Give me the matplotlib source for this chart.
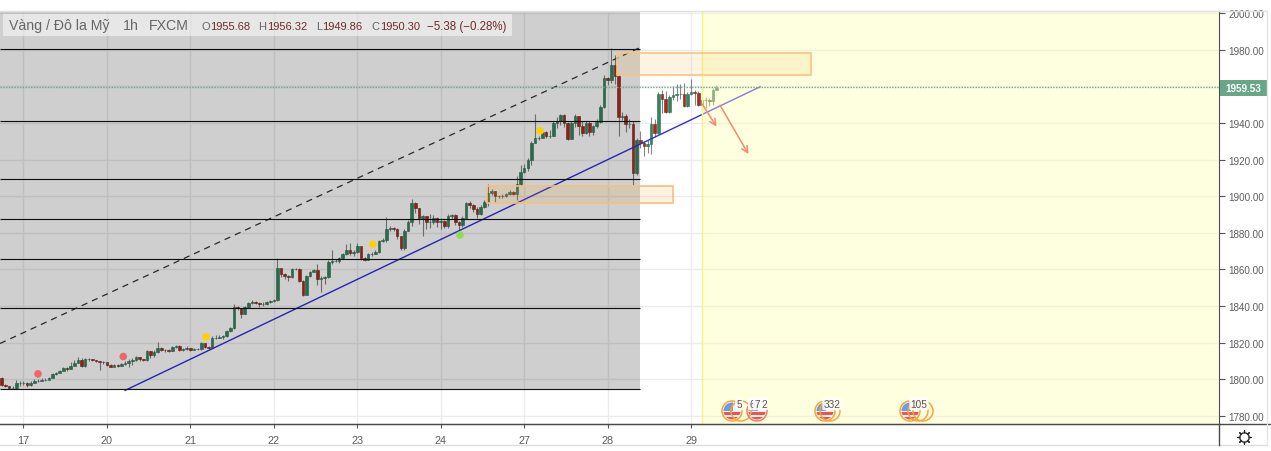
import numpy as np
import matplotlib
matplotlib.use('Agg')
import matplotlib.pyplot as plt
from matplotlib.patches import Rectangle, Circle

plt.rcParams['font.family'] = ['Liberation Sans', 'DejaVu Sans']

opens = [1801.0,1797.0,1796.2,1795.1,1795.3,1798.0,1798.0,1798.2,1797.0,1798.0,
 1799.0,1799.0,1799.7,1799.7,1800.9,1802.8,1803.5,1804.6,1806.2,1805.7,
 1807.5,1809.0,1810.6,1807.5,1811.0,1811.0,1810.6,1810.0,1809.5,1809.3,
 1808.0,1807.0,1807.9,1807.5,1808.4,1809.0,1810.2,1810.4,1812.0,1811.0,
 1810.6,1815.3,1813.3,1814.8,1817.3,1816.2,1815.9,1815.7,1817.9,1818.4,
 1816.2,1816.4,1817.3,1816.2,1816.6,1816.6,1819.7,1817.5,1817.2,1822.6,
 1822.8,1823.3,1823.5,1826.2,1827.9,1839.4,1838.8,1835.7,1839.4,1841.7,
 1842.4,1841.9,1841.0,1841.2,1842.1,1842.6,1843.2,1860.6,1857.5,1856.6,
 1855.9,1860.3,1860.3,1853.9,1846.0,1856.3,1858.4,1859.5,1854.8,1855.3,
 1855.7,1864.3,1864.8,1864.8,1866.4,1868.4,1870.6,1868.8,1869.7,1872.6,
 1866.0,1865.4,1868.4,1868.4,1869.7,1875.5,1875.9,1882.0,1882.7,1882.1,
 1878.1,1871.6,1881.2,1886.1,1896.3,1893.4,1888.1,1889.0,1886.1,1886.1,
 1887.9,1885.8,1886.5,1883.9,1889.4,1889.8,1886.1,1884.3,1888.3,1896.3,
 1895.2,1893.0,1890.3,1894.0,1897.0,1901.8,1902.7,1900.0,1900.3,1900.0,
 1901.0,1902.3,1901.2,1906.7,1913.4,1915.2,1919.6,1929.0,1931.6,1931.9,
 1934.8,1932.7,1933.0,1940.0,1941.2,1944.3,1940.0,1931.2,1939.8,1943.6,
 1938.1,1934.3,1940.0,1934.8,1938.1,1940.3,1948.5,1964.7,1963.6,1971.6,
 1965.8,1943.2,1943.9,1939.4,1939.4,1912.6,1930.7,1929.0,1927.6,1928.5,
 1939.4,1934.5,1955.6,1953.0,1946.1,1953.9,1955.2,1955.8,1955.8,1949.4,
 1955.8,1956.7,1956.3,1950.0,1952.7,1952.5,1952.0,1958.0]
closes = [1797.0,1796.2,1795.1,1795.3,1798.0,1798.0,1798.2,1797.0,1798.0,1799.0,
 1799.0,1799.7,1799.7,1800.9,1802.8,1803.5,1804.6,1806.2,1805.7,1807.5,
 1809.0,1810.6,1807.5,1811.0,1811.0,1810.6,1810.0,1809.5,1809.3,1808.0,
 1807.0,1807.9,1807.5,1808.4,1809.0,1810.2,1810.4,1812.0,1811.0,1810.6,
 1815.3,1813.3,1814.8,1817.3,1816.2,1815.9,1815.7,1817.9,1818.4,1816.2,
 1816.4,1817.3,1816.2,1816.6,1816.6,1819.7,1817.5,1817.2,1822.6,1822.8,
 1823.3,1823.5,1826.2,1827.9,1839.4,1838.8,1835.7,1839.4,1841.7,1842.4,
 1841.9,1841.0,1841.2,1842.1,1842.6,1843.2,1860.6,1857.5,1856.6,1855.9,
 1860.3,1860.3,1853.9,1846.0,1856.3,1858.4,1859.5,1854.8,1855.3,1855.7,
 1864.3,1864.8,1864.8,1866.4,1868.4,1870.6,1868.8,1869.7,1872.6,1866.0,
 1865.4,1868.4,1868.4,1869.7,1875.5,1875.9,1882.0,1882.7,1882.1,1878.1,
 1871.6,1881.2,1886.1,1896.3,1893.4,1888.1,1889.0,1886.1,1886.1,1887.9,
 1885.8,1886.5,1883.9,1889.4,1889.8,1886.1,1884.3,1888.3,1896.3,1895.2,
 1893.0,1890.3,1894.0,1897.0,1901.8,1902.7,1900.0,1900.3,1900.0,1901.0,
 1902.3,1901.2,1906.7,1913.4,1915.2,1919.6,1929.0,1931.6,1931.9,1934.8,
 1932.7,1933.0,1940.0,1941.2,1944.3,1940.0,1931.2,1939.8,1943.6,1938.1,
 1934.3,1940.0,1934.8,1938.1,1940.3,1948.5,1964.7,1963.6,1971.6,1965.8,
 1943.2,1943.9,1939.4,1939.4,1912.6,1930.7,1929.0,1927.6,1928.5,1939.4,
 1934.5,1955.6,1953.0,1946.1,1953.9,1955.2,1955.8,1955.8,1949.4,1955.8,
 1956.7,1956.3,1950.0,1952.7,1952.5,1952.0,1958.0,1959.0]
highs = [1801.5,1797.5,1796.5,1796.5,1799.5,1799.0,1799.0,1798.5,1799.0,1800.0,
 1800,1800.5,1800.5,1801.5,1803.5,1804.2,1805.2,1807,1807,1809.5,
 1810.8,1812,1811.5,1811.6,1811.6,1811.3,1810.8,1810.3,1810,1809.3,
 1808.2,1808.5,1808.2,1809.2,1810,1811.2,1811.5,1812.8,1812,1811.4,
 1816,1815.5,1816,1820.3,1817.5,1816.8,1816.4,1818.5,1819,1818.8,
 1817.2,1818.2,1817.4,1817.3,1817.4,1820.5,1820,1818,1823.5,1824,
 1824.5,1824.5,1827,1828.7,1841.2,1840,1839,1840.2,1842.5,1843.2,
 1842.8,1842,1842,1842.8,1843.3,1844,1866,1860.6,1858.2,1857.2,
 1860.8,1861,1860.8,1854.5,1857,1859.2,1860.2,1863,1856.2,1856.3,
 1865,1870.8,1865.5,1867,1869,1873.9,1874.5,1870.5,1874.5,1871,
 1867,1869,1869.5,1870.5,1876,1877,1888.5,1884,1883,1882.5,
 1878.5,1882.2,1887,1898.5,1896.8,1893.8,1890,1888,1890.2,1890,
 1888.5,1888,1887,1890.3,1890.5,1890.3,1886.5,1889.4,1897,1897.2,
 1895.5,1894,1895.3,1898,1906.7,1903.8,1903,1900.8,1901,1902,
 1903.2,1902.6,1911,1917,1917.5,1921,1930,1944.8,1933,1937,
 1935.5,1936,1941,1943,1945,1944.8,1940.5,1941,1945,1944,
 1940.8,1941,1941,1939,1942,1950,1966,1965,1980.7,1977,
 1966.5,1946,1945,1942,1941,1932,1935.7,1930,1930.5,1943,
 1942,1957,1958,1957.5,1955,1960,1961,1961.5,1961.8,1957,
 1964,1958,1957.5,1953.5,1954,1953.5,1959,1960.7]
lows = [1796.5,1795.8,1794.6,1794.6,1795.0,1796.5,1796.8,1795.6,1796.5,1798.0,
 1798.5,1799,1799,1800,1800.6,1802.6,1803.5,1804.5,1804.8,1805.5,
 1807.2,1808.7,1806.8,1807,1810.3,1809.8,1809.3,1805.3,1808.4,1807.4,
 1806.5,1806.8,1806.8,1807.3,1807.8,1807,1807.8,1809.8,1810.3,1810,
 1810.3,1811.5,1812,1814.5,1815.5,1815,1815,1815.5,1817.3,1815.6,
 1815.6,1816,1815.6,1815.8,1815.8,1816.3,1817,1816.4,1817,1821.8,
 1822.5,1821.8,1823.4,1826,1827.6,1837.8,1833.5,1835.5,1838.8,1841.4,
 1841.2,1839.5,1840,1840.8,1841.7,1842.4,1842.6,1855.8,1855,1853.8,
 1855.4,1859.5,1853.2,1845.6,1846,1856,1858.8,1851.5,1847.5,1852,
 1855.3,1862.8,1864,1863.5,1865.8,1868,1867.8,1867.5,1869,1865.4,
 1864.4,1865.2,1867.5,1868.6,1869,1875,1875.2,1881,1880.8,1876.8,
 1870.8,1870.8,1881,1883.6,1891,1885,1878.5,1882,1882.5,1884.8,
 1883,1882.3,1882.8,1882.5,1887.8,1884.5,1881,1883,1887.8,1893.5,
 1891.5,1888,1889.5,1893.5,1894.9,1900.5,1897,1899,1899,1899.8,
 1900.8,1900.5,1898,1905.5,1912.5,1914,1917.2,1929,1930.5,1932,
 1931.6,1932,1932.8,1937,1939,1938,1930.5,1931,1937.8,1933.5,
 1933,1934,1932.8,1933.5,1937,1940,1948,1960.8,1962,1961,
 1932.6,1941.8,1935,1937,1906,1911.5,1926.5,1922,1923.5,1923,
 1932.5,1934,1945.4,1945.5,1945.5,1952.5,1952,1953,1948.5,1948.5,
 1955,1950,1949,1946.7,1948,1949,1949.8,1957.8]

price_ticks = [1780,1800,1820,1840,1860,1880,1900,1920,1940,1960,1980,2000]
day_ticks = [6,29,52,75,98,121,144,167,190]
day_labels = ['17','20','21','22','23','24','27','28','29']

fib_levels = [1980.3,1940.8,1909.4,1887.8,1865.7,1839.0,1794.5]
last_price = 1959.53

dot_x = [10,33.5,56.3,102.3,148.4,126.3]
dot_y = [1803.0,1812.5,1823.2,1873.8,1935.7,1878.8]
dot_colors = ['#f0646a','#f0646a','#ffd000','#ffd000','#ffd000','#8fdc50']

W, H = 1271, 452
fig = plt.figure(figsize=(W/100, H/100), dpi=100, facecolor='white')
ax = fig.add_axes([0, (H-425)/H, 1219/W, 413/H])
ax.set_xlim(-0.47, 335.5)
ax.set_ylim(1775.66, 2001.09)
ax.set_facecolor('white')

ax.set_yticks(price_ticks)
# the 1960 label sits behind the last price tag in the original
ax.set_yticklabels(['' if p == 1960 else '%.2f' % p for p in price_ticks], fontsize=7.1, color='#5d5d5d')
ax.yaxis.tick_right()
ax.set_xticks(day_ticks)
ax.set_xticklabels(day_labels, fontsize=7.8, color='#5d5d5d')
ax.tick_params(axis='y', length=4, width=0.8, color='#555555', pad=3)
ax.tick_params(axis='x', length=3, width=0.8, color='#555555', pad=5)
ax.grid(True, color='#ececec', lw=1)
ax.set_axisbelow(True)
for s in ['top', 'left']:
    ax.spines[s].set_visible(False)
ax.spines['right'].set_color('#4a4a4a')
ax.spines['bottom'].set_color('#4a4a4a')

# candles
idx = np.arange(len(closes))
o = np.array(opens)
c = np.array(closes)
up = c >= o
ax.vlines(idx, lows, highs, color='#858585', lw=0.8, zorder=2)
ax.bar(idx[up], (c-o)[up], bottom=o[up], width=0.72, color='#34845f', edgecolor='#2a6b4d', lw=0.4, zorder=2.2)
ax.bar(idx[~up], (c-o)[~up], bottom=o[~up], width=0.72, color='#ab2a1c', edgecolor='#6f2317', lw=0.4, zorder=2.2)

# drawings, in bar/price coordinates
ax.plot([-0.47, 176], [1819.6, 1981.2], color='#333333', lw=0.9, ls=(0, (5, 4)), zorder=2.5)
ax.plot([34, 209], [1794.0, 1959.7], color='#2f2fdc', lw=1.0, zorder=2.5)
ax.hlines(fib_levels, -0.47, 175.9, color='#111111', lw=0.8, zorder=2.5)

ax.add_patch(Rectangle((-0.47, 1794.5), 176.4, 2001.09-1794.5, fc='black', alpha=0.19, ec='none', zorder=2.6))
ax.add_patch(Rectangle((193, 1775.66), 142.5, 2001.09-1775.66, fc='#fdffb1', alpha=0.4, ec='none', zorder=3))
ax.axvline(193, color='#f5f57a', lw=1, zorder=3.1)
ax.add_patch(Rectangle((169.6, 1966.2), 53.5, 11.8, fc='#f5a623', alpha=0.12, ec='none', zorder=3.2))
ax.add_patch(Rectangle((169.6, 1966.2), 53.5, 11.8, fc='none', ec='#f8c47e', lw=1.2, zorder=3.2))
ax.add_patch(Rectangle((133.8, 1896.2), 51.3, 9.3, fc='#f5a623', alpha=0.14, ec='none', zorder=3.2))
ax.add_patch(Rectangle((133.8, 1896.2), 51.3, 9.3, fc='none', ec='#f6bf80', lw=1.2, zorder=3.2))

ax.axhline(last_price, color='#6fa88a', lw=1, ls=(0, (1, 1)), zorder=3.5)
ax.scatter(dot_x, dot_y, s=30, c=dot_colors, linewidths=0, zorder=3.6)

ax.annotate('', xy=(197, 1938.0), xytext=(193.1, 1950.2),
            arrowprops=dict(arrowstyle='->', color='#f58a70', lw=1.1, mutation_scale=11, shrinkA=0, shrinkB=0), zorder=4)
ax.annotate('', xy=(205.8, 1923.0), xytext=(198, 1949.6),
            arrowprops=dict(arrowstyle='->', color='#f58a70', lw=1.1, mutation_scale=11, shrinkA=0, shrinkB=0), zorder=4)

# page furniture in pixel coordinates
ov = fig.add_axes([0, 0, 1, 1], facecolor='none')
ov.set_xlim(0, W)
ov.set_ylim(H, 0)
ov.axis('off')
ov.plot([0, 1267], [12, 12], color='#e0e0e0', lw=1)
ov.plot([0, 1271], [425, 425], color='#4a4a4a', lw=1)
ov.plot([0, 1267], [446, 446], color='#dddddd', lw=1)
ov.plot([1219, 1219], [425, 446], color='#4a4a4a', lw=1)
ov.plot([1267, 1267], [12, 446], color='#e6e6e6', lw=1)

# price label
ov.add_patch(Rectangle((1220, 81), 47, 15.5, fc='#68a688', ec='none'))
ov.text(1243.5, 89, '%.2f' % last_price, color='white', fontsize=7.1, fontweight='bold', ha='center', va='center')

# legend
ov.add_patch(Rectangle((3, 15), 509, 22, fc='white', alpha=0.5, ec='none'))
grey = '#666666'
red = '#6f2b2b'
ov.text(9, 26, 'Vàng / Đô la Mỹ', color=grey, fontsize=10.2, va='center')
ov.text(123, 26, '1h', color=grey, fontsize=10.2, va='center')
ov.text(149, 26, 'FXCM', color=grey, fontsize=10.2, va='center')
for lx, ltxt, vx, vtxt in [(201, 'O', 210, '1955.68'), (258, 'H', 267, '1956.32'),
                           (316, 'L', 322, '1949.86'), (371, 'C', 380, '1950.30')]:
    ov.text(lx, 27, ltxt, color=grey, fontsize=8.0, va='center')
    ov.text(vx, 27, vtxt, color=red, fontsize=8.0, va='center')
ov.text(427, 27, '−5.38 (−0.28%)', color=red, fontsize=8.3, va='center')

# calendar event icons
def flag(x, ring='#f5a63a', y=412, r=10, fill=True):
    if fill:
        bg = Circle((x, y), r-1.5, fc='#f7f3ea', ec='none', zorder=5)
        ov.add_patch(bg)
        s = ov.add_patch(Rectangle((x-r, y+1), 2*r, 3, fc='#e8545a', ec='none', zorder=5.1))
        s.set_clip_path(bg)
        s = ov.add_patch(Rectangle((x-r, y+6), 2*r, 3, fc='#e8545a', ec='none', zorder=5.1))
        s.set_clip_path(bg)
        b = ov.add_patch(Rectangle((x-r, y-r), r+1, r, fc='#6b9be0', ec='none', zorder=5.2))
        b.set_clip_path(bg)
    ov.add_patch(Circle((x, y), r, fc='none', ec=ring, lw=1.1, zorder=5.3))

flag(732)
flag(741, fill=False)
flag(757, '#ef7d6a')
flag(825)
flag(830, fill=False)
flag(910)
flag(918, fill=False)
flag(923, fill=False)
for tx, t in [(739, '5'), (752, '6'), (757, '7'), (764, '2'), (832, '332'), (919, '105')]:
    ov.text(tx, 405, t, color='#555555', fontsize=7.2, ha='center', va='center', zorder=6,
            bbox=dict(boxstyle='round,pad=0.12', fc='white', ec='none', alpha=0.85))

# settings gear
ov.scatter([1243.5], [437.5], s=90, marker=(8, 2, 0), color='#222222', linewidths=0.9, zorder=5)
ov.scatter([1243.5], [437.5], s=48, marker='8', fc='white', ec='#222222', linewidths=0.9, zorder=5.1)

fig.savefig('out.png', dpi=100, facecolor='white')
